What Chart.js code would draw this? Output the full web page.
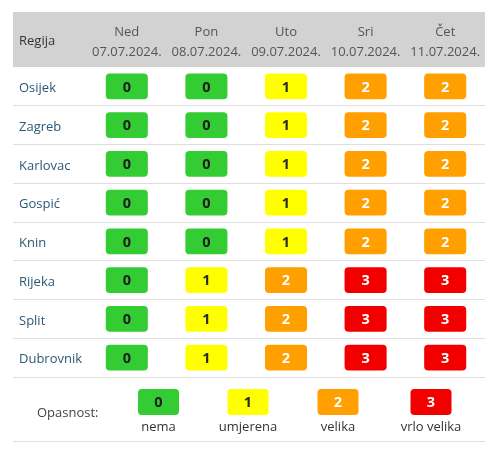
<!DOCTYPE html>
<html><head><meta charset="utf-8">
<script src="https://cdn.jsdelivr.net/npm/chart.js@4/dist/chart.umd.min.js"></script>
<style>html,body{margin:0;padding:0;background:#fff;}</style>
</head><body>
<canvas id="c" width="499" height="451"></canvas>
<script>
// ---- data ----
const days = ['Ned', 'Pon', 'Uto', 'Sri', 'Čet'];
const dates = ['07.07.2024.', '08.07.2024.', '09.07.2024.', '10.07.2024.', '11.07.2024.'];
const regions = ['Osijek', 'Zagreb', 'Karlovac', 'Gospić', 'Knin', 'Rijeka', 'Split', 'Dubrovnik'];
// danger level per region (same order as regions), one array per day
const ned = [0, 0, 0, 0, 0, 0, 0, 0];
const pon = [0, 0, 0, 0, 0, 1, 1, 1];
const uto = [1, 1, 1, 1, 1, 2, 2, 2];
const sri = [2, 2, 2, 2, 2, 3, 3, 3];
const cet = [2, 2, 2, 2, 2, 3, 3, 3];
const levels = [0, 1, 2, 3];
const levelNames = ['nema', 'umjerena', 'velika', 'vrlo velika'];
const cornerTitle = 'Regija';
const legendTitle = 'Opasnost:';

// ---- styles ----
const levelColors = ['#33cc33', '#ffff00', '#ff9f00', '#f20000'];
const levelTextColors = ['#1c1c1c', '#2a2a2a', '#ffffff', '#ffffff'];
const FONT = "'Open Sans', 'Noto Sans', sans-serif";
const BOLD = "bold 14.5px 'Open Sans', 'Noto Sans', sans-serif";
const LINE = '#dedede';

const dayValues = [ned, pon, uto, sri, cet];

const datasets = dayValues.map((vals, d) => ({
  label: days[d],
  xAxisID: 'x',
  yAxisID: 'y',
  levels: vals,
  data: vals.map(() => [d + 0.24, d + 0.76]),
  backgroundColor: vals.map(v => levelColors[v]),
  borderWidth: 0,
  borderRadius: 4,
  borderSkipped: false,
  barThickness: 25
}));

const tablePlugin = {
  id: 'tablePlugin',
  beforeDraw(chart) {
    const c = chart.ctx;
    const xs = chart.scales.xDays;
    c.save();
    c.fillStyle = '#d2d2d2';
    c.fillRect(13, xs.top, 472, chart.chartArea.top - xs.top);
    c.fillStyle = '#333';
    c.font = '13px ' + FONT;
    c.textAlign = 'left';
    c.textBaseline = 'middle';
    c.fillText(cornerTitle, 19, 41);
    c.restore();
  },
  afterDatasetsDraw(chart) {
    const c = chart.ctx;
    c.save();
    c.font = BOLD;
    c.textAlign = 'center';
    c.textBaseline = 'middle';
    chart.data.datasets.forEach((ds, di) => {
      const meta = chart.getDatasetMeta(di);
      meta.data.forEach((el, i) => {
        const v = ds.levels[i];
        const p = el.getCenterPoint();
        c.fillStyle = levelTextColors[v];
        c.fillText(String(v), p.x, p.y + 1);
      });
    });
    c.restore();
  },
  afterDraw(chart) {
    const c = chart.ctx;
    const top = chart.chartArea.bottom;
    c.save();
    c.font = '13px ' + FONT;
    c.textBaseline = 'middle';
    c.textAlign = 'left';
    c.fillStyle = '#444';
    c.fillText(legendTitle, 37, top + 36);
    const centers = [158.5, 248, 338, 431];
    levels.forEach((lv, i) => {
      const cx = centers[i];
      c.fillStyle = levelColors[lv];
      c.beginPath();
      c.roundRect(cx - 20.5, top + 12, 41, 26, 4);
      c.fill();
      c.font = BOLD;
      c.textAlign = 'center';
      c.fillStyle = levelTextColors[lv];
      c.fillText(String(lv), cx, top + 26);
      c.font = '13px ' + FONT;
      c.fillStyle = '#333';
      c.fillText(levelNames[i], cx, top + 50);
    });
    c.strokeStyle = LINE;
    c.lineWidth = 1;
    c.beginPath();
    c.moveTo(13, top + 64.5);
    c.lineTo(485, top + 64.5);
    c.stroke();
    c.restore();
  }
};

new Chart(document.getElementById('c'), {
  type: 'bar',
  data: { labels: regions, datasets },
  options: {
    indexAxis: 'y',
    responsive: false,
    animation: false,
    devicePixelRatio: 1,
    datasets: { bar: { grouped: false } },
    layout: { padding: { left: 19, right: 14, top: 12, bottom: 74 } },
    plugins: { legend: { display: false }, tooltip: { enabled: false } },
    scales: {
      x: { type: 'linear', min: 0, max: 5, display: false },
      xDays: {
        type: 'category',
        position: 'top',
        labels: days.map((d, i) => [d, dates[i]]),
        offset: true,
        grid: { display: false },
        border: { display: false },
        ticks: {
          font: { family: FONT, size: 13, lineHeight: '20.5px' },
          color: '#555',
          padding: -4,
          maxRotation: 0,
          autoSkip: false
        },
        afterFit(s) { s.height = 55; }
      },
      y: {
        type: 'category',
        labels: regions,
        offset: true,
        grid: {
          offset: true,
          tickLength: 74,
          color: ctx => (ctx.index === 0 ? 'rgba(0,0,0,0)' : LINE)
        },
        border: { display: false },
        ticks: {
          crossAlign: 'far',
          font: { family: FONT, size: 13 },
          color: '#2b5876',
          padding: 0,
          labelOffset: 2,
          autoSkip: false
        },
        afterFit(s) { s.width = 68; }
      }
    }
  },
  plugins: [tablePlugin]
});
</script>
</body></html>
